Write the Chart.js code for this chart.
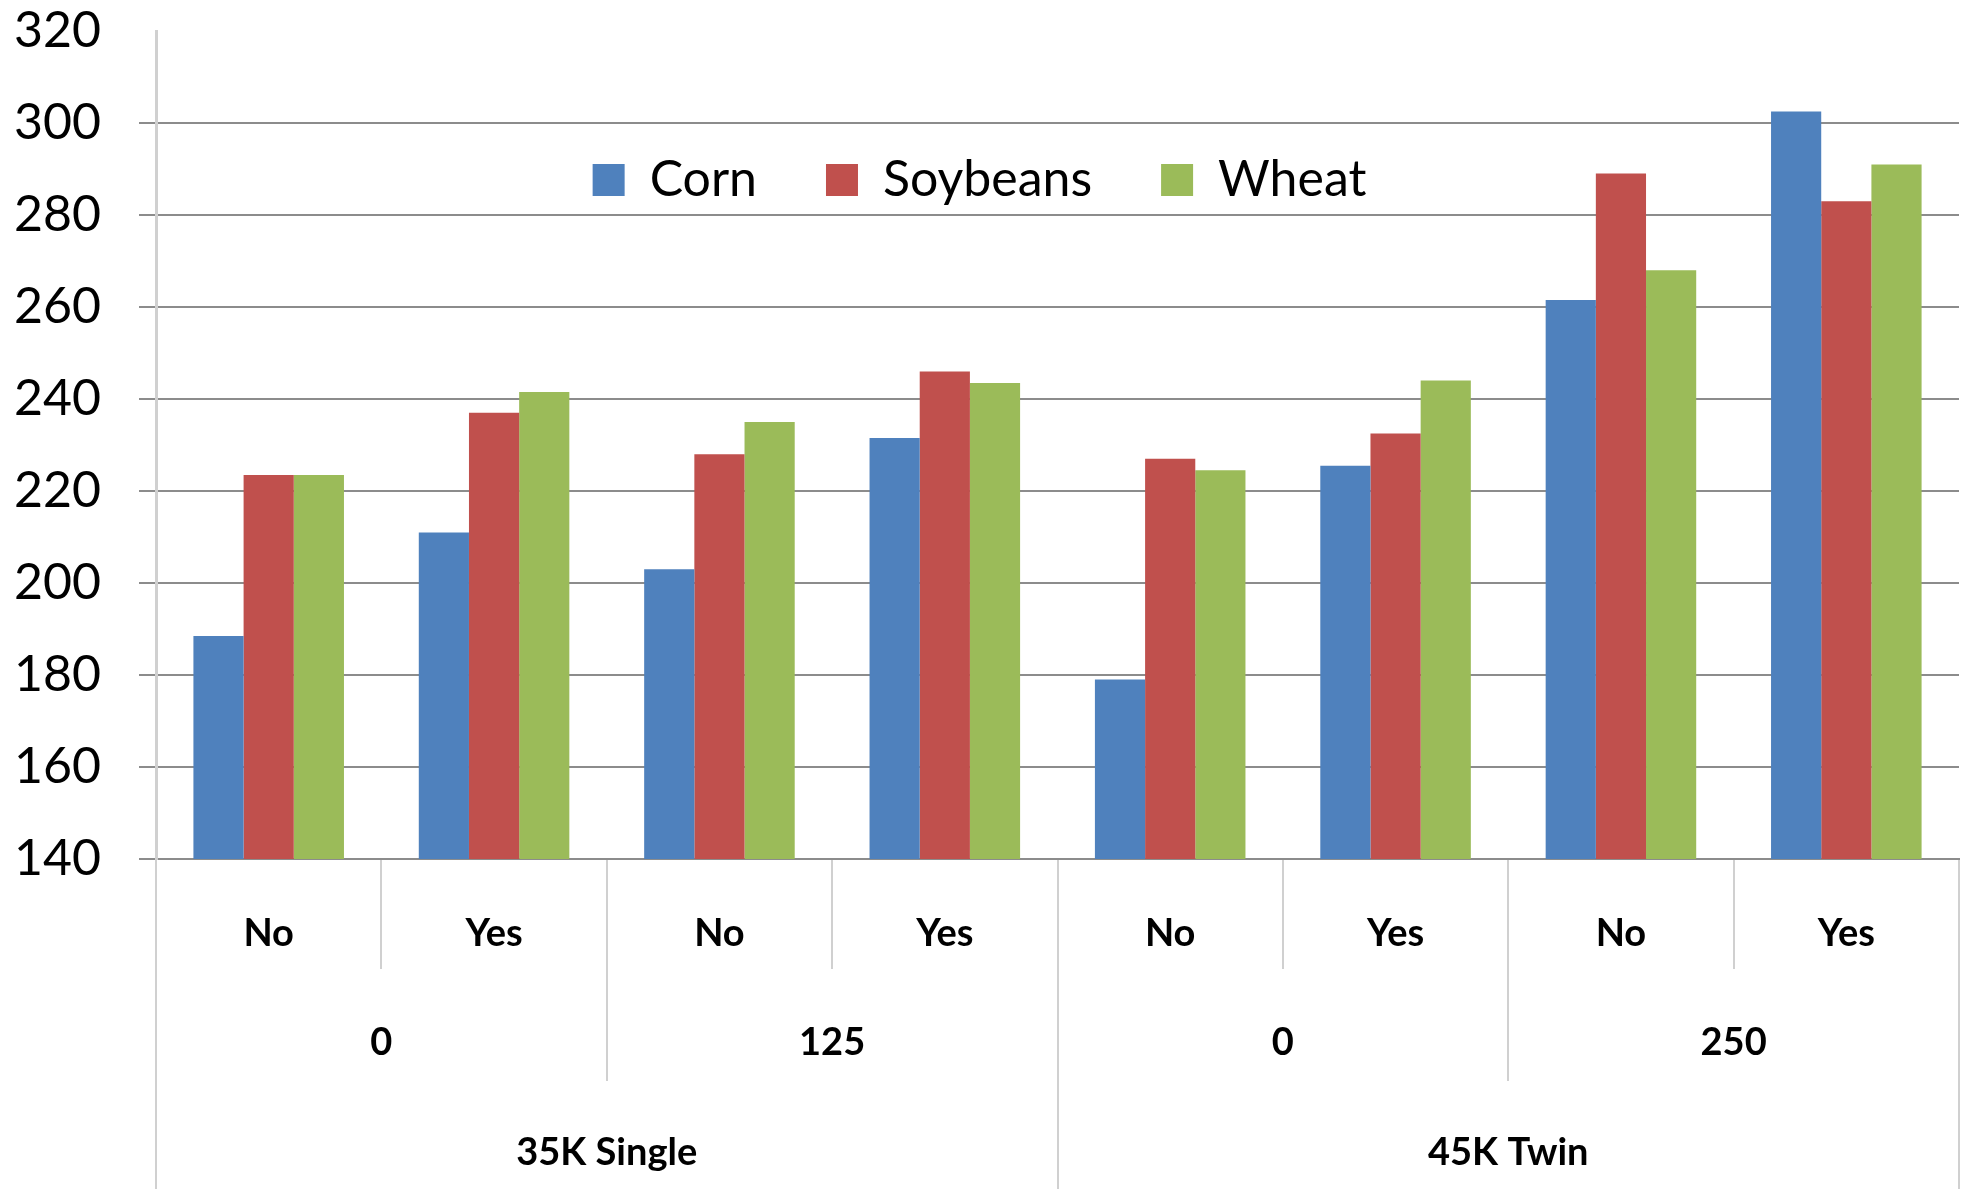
<!DOCTYPE html>
<html>
<head>
<meta charset="utf-8">
<script src="https://cdn.jsdelivr.net/npm/chart.js@4"></script>
<style>
  body { margin: 0; background: #fff; }
  #wrap { width: 1973px; height: 1193px; }
</style>
</head>
<body>
<div id="wrap"><canvas id="grafico"></canvas></div>
<script>
// dados
const sementeira = ['No', 'Yes', 'No', 'Yes', 'No', 'Yes', 'No', 'Yes'];
const doses = ['0', '125', '0', '250'];
const sistemas = ['35K Single', '45K Twin'];
const corn = [188.5, 211, 203, 231.5, 179, 225.5, 261.5, 302.5];
const soybeans = [223.5, 237, 228, 246, 227, 232.5, 289, 283];
const wheat = [223.5, 241.5, 235, 243.5, 224.5, 244, 268, 291];
const yTicks = [140, 160, 180, 200, 220, 240, 260, 280, 300, 320];

const gridGray = '#8c8c8c';
const sepGray = '#d0d0d0';

// a legenda não ocupa espaço no topo; é desenhada dentro da área do gráfico
const legendaDentro = {
    id: 'legendaDentro',
    afterLayout(chart) {
        const lg = chart.legend;
        if (!lg) return;
        lg.top = chart.chartArea.top + 55;
        lg.bottom = lg.top + 140;
        lg.height = 140;
    }
};

function eixoX(labels, altura, padding, peso, borda) {
    return {
        type: 'category',
        labels: labels,
        position: 'bottom',
        weight: peso,
        offset: true,
        grid: {
            offset: true,
            drawOnChartArea: false,
            drawTicks: true,
            tickLength: altura,
            color: sepGray,
            lineWidth: 2
        },
        border: borda ? { display: true, color: gridGray, width: 2 } : { display: false },
        ticks: {
            autoSkip: false,
            maxRotation: 0,
            padding: padding,
            color: '#000',
            font: { family: 'Lato', size: 38, weight: 'bold' }
        },
        afterFit(scale) { scale.height = altura; }
    };
}

const ctx = document.getElementById('grafico');

new Chart(ctx, {
    type: 'bar',
    data: {
        labels: sementeira,
        datasets: [
            { label: 'Corn', data: corn, backgroundColor: '#4f81bd', xAxisID: 'x' },
            { label: 'Soybeans', data: soybeans, backgroundColor: '#c0504d', xAxisID: 'x' },
            { label: 'Wheat', data: wheat, backgroundColor: '#9bbb59', xAxisID: 'x' }
        ]
    },
    options: {
        responsive: true,
        maintainAspectRatio: false,
        animation: false,
        layout: { padding: { top: 30, right: 14, bottom: 4, left: 0 } },
        datasets: { bar: { categoryPercentage: 0.668, barPercentage: 1 } },
        plugins: {
            tooltip: { enabled: false },
            legend: {
                position: 'top',
                align: 'center',
                maxHeight: 1,
                labels: {
                    boxWidth: 32,
                    boxHeight: 32,
                    padding: 69,
                    color: '#000',
                    font: { family: 'Lato', size: 50 }
                }
            }
        },
        scales: {
            x: eixoX(sementeira, 110, -58, 1, true),
            x2: eixoX(doses, 112, -61, 2, false),
            x3: eixoX(sistemas, 108, -59, 3, false),
            y: {
                min: 140,
                max: 320,
                afterBuildTicks(scale) {
                    scale.ticks = yTicks.map(v => ({ value: v }));
                },
                grid: {
                    color: c => (c.tick && c.tick.value === 320) ? 'rgba(0,0,0,0)' : gridGray,
                    lineWidth: 2,
                    tickLength: 17
                },
                border: { display: true, color: sepGray, width: 3 },
                ticks: {
                    padding: 38,
                    color: '#000',
                    font: { family: 'Lato', size: 50 }
                },
                afterFit(scale) {
                    scale.width = 156;
                    scale.paddingTop = 0;
                    scale.paddingBottom = 0;
                }
            }
        }
    },
    plugins: [legendaDentro]
});
</script>
</body>
</html>
